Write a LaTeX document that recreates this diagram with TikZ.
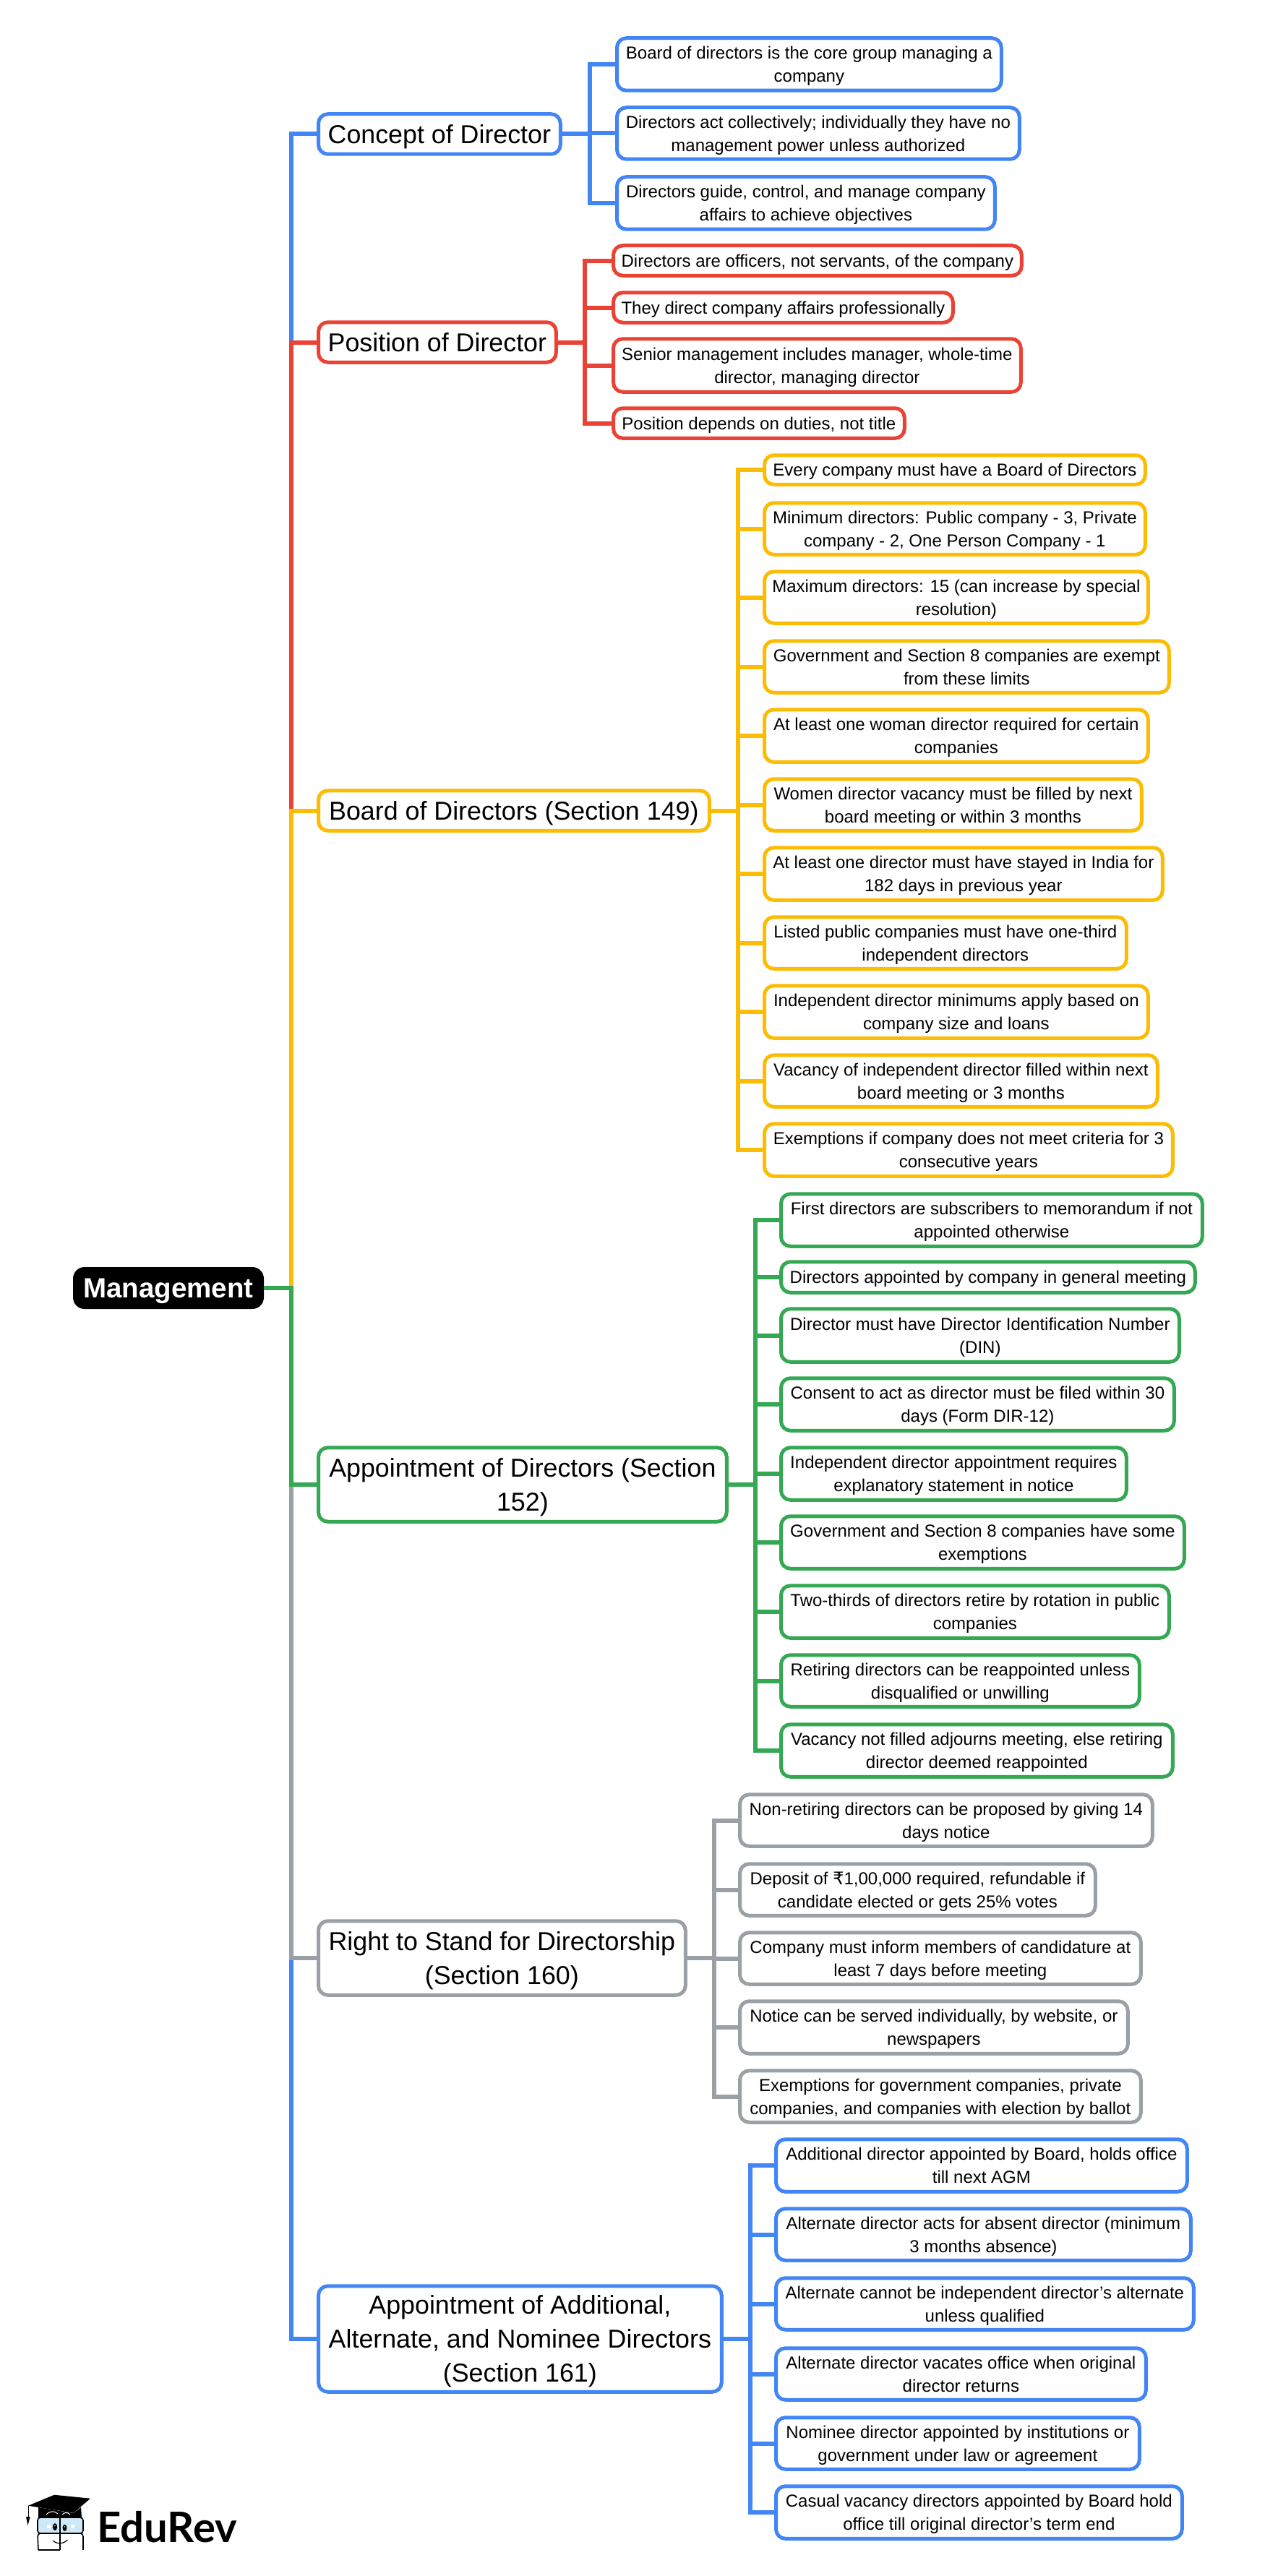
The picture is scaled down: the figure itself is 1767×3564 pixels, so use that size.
\documentclass[tikz,border=0pt]{standalone}
\usepackage{fontspec}
\setmainfont{Liberation Sans}
\newfontfamily\logofont{Lato}
\newfontfamily\rupeefont{DejaVu Sans}
\definecolor{cblue}{HTML}{4285F4}
\definecolor{cred}{HTML}{EA4335}
\definecolor{cyellow}{HTML}{FBBC04}
\definecolor{cgreen}{HTML}{34A853}
\definecolor{cgray}{HTML}{9AA0A6}
\definecolor{lens}{HTML}{CFE8F8}
\tikzset{
  basebox/.style={rounded corners=13pt,inner sep=0pt,align=center,line width=5pt,fill=white,text=black},
  leaf/.style={basebox,draw=#1,font=\fontsize{24}{32}\selectfont},
  topic/.style={basebox,draw=#1,font=\fontsize{35.8}{47}\selectfont},
  rootbox/.style={rounded corners=16pt,inner sep=0pt,align=center,fill=black,text=white,font=\fontsize{38.5}{46}\selectfont\bfseries},
  conn/.style={draw=#1,line width=6pt},
}
\newcommand\nd[7]{%
  \pgfmathsetmacro\ndcx{(#3+#4-1.25)/2}%
  \pgfmathsetmacro\ndcy{(#5+#6)/2}%
  \pgfmathsetmacro\ndmw{#4-#3-2.25}%
  \pgfmathsetmacro\ndmh{#6-#5-3.5}%
  \node[#1,minimum width=\ndmw pt,minimum height=\ndmh pt] (#2) at (\ndcx,\ndcy) {\rule[-0.23em]{0pt}{1.18em}#7\rule[-0.23em]{0pt}{0pt}};%
}
\begin{document}
\begin{tikzpicture}[x=1pt,y=-1pt]
\useasboundingbox (0,0) rectangle (1767,3564);
% root
\node[rootbox,minimum width=264pt,minimum height=58pt] (root) at (233,1782) {\rule[-0.23em]{0pt}{1.18em}Management};
% topics
\nd{topic=cblue}{t1}{440}{777}{156}{215}{Concept of Director}
\nd{topic=cred}{t2}{440}{771}{444}{503}{Position of Director}
\nd{topic=cyellow}{t3}{440}{983}{1092}{1151}{Board of Directors (Section 149)}
\nd{topic=cgreen}{t4}{440}{1007}{2001}{2107}{Appointment of Directors (Section\\152)}
\nd{topic=cgray}{t5}{440}{950}{2656}{2762}{Right to Stand for Directorship\\(Section 160)}
\nd{topic=cblue}{t6}{440}{1000}{3161}{3311}{Appointment of Additional,\\Alternate, and Nominee Directors\\(Section 161)}
% trunk
\draw[conn=cblue] (root.east) -- ++(38,0) |- (t1.west);
\draw[conn=cred] (root.east) -- ++(38,0) |- (t2.west);
\draw[conn=cyellow] (root.east) -- ++(38,0) |- (t3.west);
\draw[conn=cblue] (root.east) -- ++(38,0) |- (t6.west);
\draw[conn=cgray] (root.east) -- ++(38,0) |- (t5.west);
\draw[conn=cgreen] (root.east) -- ++(38,0) |- (t4.west);
% concept
\nd{leaf=cblue}{a1}{853}{1387}{51}{127}{Board of directors is the core group managing a\\company}
\nd{leaf=cblue}{a2}{853}{1412}{147}{222}{Directors act collectively; individually they have no\\management power unless authorized}
\nd{leaf=cblue}{a3}{853}{1378}{243}{319}{Directors guide, control, and manage company\\affairs to achieve objectives}
\foreach \n in {a1,a2,a3} \draw[conn=cblue] (t1.east) -- ++(38,0) |- (\n.west);
% position
\nd{leaf=cred}{b1}{848}{1415}{338}{383}{Directors are officers, not servants, of the company}
\nd{leaf=cred}{b2}{848}{1320}{403}{448}{They direct company affairs professionally}
\nd{leaf=cred}{b3}{848}{1414}{467}{544}{Senior management includes manager, whole-time\\director, managing director}
\nd{leaf=cred}{b4}{848}{1253}{563}{608}{Position depends on duties, not title}
\foreach \n in {b1,b2,b3,b4} \draw[conn=cred] (t2.east) -- ++(37,0) |- (\n.west);
% board
\nd{leaf=cyellow}{c1}{1057}{1586}{628}{672}{Every company must have a Board of Directors}
\nd{leaf=cyellow}{c2}{1057}{1586}{694}{769}{Minimum directors: Public company - 3, Private\\company - 2, One Person Company - 1}
\nd{leaf=cyellow}{c3}{1057}{1590}{789}{864}{Maximum directors: 15 (can increase by special\\resolution)}
\nd{leaf=cyellow}{c4}{1057}{1619}{885}{960}{Government and Section 8 companies are exempt\\from these limits}
\nd{leaf=cyellow}{c5}{1057}{1590}{980}{1056}{At least one woman director required for certain\\companies}
\nd{leaf=cyellow}{c6}{1057}{1581}{1076}{1151}{Women director vacancy must be filled by next\\board meeting or within 3 months}
\nd{leaf=cyellow}{c7}{1057}{1610}{1171}{1247}{At least one director must have stayed in India for\\182 days in previous year}
\nd{leaf=cyellow}{c8}{1057}{1560}{1267}{1342}{Listed public companies must have one-third\\independent directors}
\nd{leaf=cyellow}{c9}{1057}{1590}{1362}{1438}{Independent director minimums apply based on\\company size and loans}
\nd{leaf=cyellow}{c10}{1057}{1603}{1458}{1533}{Vacancy of independent director filled within next\\board meeting or 3 months}
\nd{leaf=cyellow}{c11}{1057}{1624}{1553}{1629}{Exemptions if company does not meet criteria for 3\\consecutive years}
\foreach \n in {c1,c2,c3,c4,c5,c6,c7,c8,c9,c10,c11} \draw[conn=cyellow] (t3.east) -- ++(37,0) |- (\n.west);
% appointment
\nd{leaf=cgreen}{d1}{1080}{1665}{1650}{1726}{First directors are subscribers to memorandum if not\\appointed otherwise}
\nd{leaf=cgreen}{d2}{1080}{1655}{1744}{1790}{Directors appointed by company in general meeting}
\nd{leaf=cgreen}{d3}{1080}{1633}{1809}{1886}{Director must have Director Identification Number\\(DIN)}
\nd{leaf=cgreen}{d4}{1080}{1626}{1905}{1981}{Consent to act as director must be filed within 30\\days (Form DIR-12)}
\nd{leaf=cgreen}{d5}{1080}{1560}{2001}{2077}{Independent director appointment requires\\explanatory statement in notice}
\nd{leaf=cgreen}{d6}{1080}{1640}{2096}{2172}{Government and Section 8 companies have some\\exemptions}
\nd{leaf=cgreen}{d7}{1080}{1619}{2192}{2268}{Two-thirds of directors retire by rotation in public\\companies}
\nd{leaf=cgreen}{d8}{1080}{1578}{2288}{2363}{Retiring directors can be reappointed unless\\disqualified or unwilling}
\nd{leaf=cgreen}{d9}{1080}{1624}{2384}{2460}{Vacancy not filled adjourns meeting, else retiring\\director deemed reappointed}
\foreach \n in {d1,d2,d3,d4,d5,d6,d7,d8,d9} \draw[conn=cgreen] (t4.east) -- ++(37,0) |- (\n.west);
% right to stand
\nd{leaf=cgray}{e1}{1023}{1596}{2481}{2556}{Non-retiring directors can be proposed by giving 14\\days notice}
\nd{leaf=cgray}{e2}{1023}{1517}{2577}{2652}{Deposit of {\rupeefont ₹}1,00,000 required, refundable if\\candidate elected or gets 25\% votes}
\nd{leaf=cgray}{e3}{1023}{1580}{2672}{2747}{Company must inform members of candidature at\\least 7 days before meeting}
\nd{leaf=cgray}{e4}{1023}{1562}{2767}{2843}{Notice can be served individually, by website, or\\newspapers}
\nd{leaf=cgray}{e5}{1023}{1580}{2863}{2938}{Exemptions for government companies, private\\companies, and companies with election by ballot}
\foreach \n in {e1,e2,e3,e4,e5} \draw[conn=cgray] (t5.east) -- ++(37,0) |- (\n.west);
% additional
\nd{leaf=cblue}{f1}{1073}{1644}{2958}{3034}{Additional director appointed by Board, holds office\\till next AGM}
\nd{leaf=cblue}{f2}{1073}{1649}{3054}{3129}{Alternate director acts for absent director (minimum\\3 months absence)}
\nd{leaf=cblue}{f3}{1073}{1653}{3150}{3225}{Alternate cannot be independent director’s alternate\\unless qualified}
\nd{leaf=cblue}{f4}{1073}{1587}{3247}{3322}{Alternate director vacates office when original\\director returns}
\nd{leaf=cblue}{f5}{1073}{1578}{3343}{3418}{Nominee director appointed by institutions or\\government under law or agreement}
\nd{leaf=cblue}{f6}{1073}{1637}{3438}{3514}{Casual vacancy directors appointed by Board hold\\office till original director’s term end}
\foreach \n in {f1,f2,f3,f4,f5,f6} \draw[conn=cblue] (t6.east) -- ++(37,0) |- (\n.west);
% logo
\fill[black] (39,3466.7) -- (75,3451.7) -- (125,3456.7) -- (101.7,3476.7) -- cycle;
\fill[black] (53,3469) -- (53,3483) -- (113,3483) -- (112,3469) -- (101.7,3477) -- cycle;
\draw[white,line width=1pt] (64,3479) .. controls (70,3473) and (76,3474) .. (80,3478);
\draw[white,line width=1pt] (86,3479) .. controls (90,3475) and (94,3476) .. (97,3479);
\draw[black,line width=1pt] (39,3466.7) -- (39,3482);
\fill[black] (36,3482) -- (41.7,3482) -- (38.5,3494) -- cycle;
\draw[black,line width=1.6pt,fill=lens,rounded corners=4pt] (52,3483) rectangle (115,3505);
\draw[black,line width=1.6pt,rounded corners=4pt] (53,3528) -- (52,3505) -- (115,3505) -- (115,3528);
\draw[black,line width=1.4pt] (53,3528) -- (83,3528);
\draw[black,line width=1.8pt] (83,3483) -- (83,3528);
\fill[black] (76,3496) ellipse (3.2 and 5);
\fill[black] (89.5,3497.3) ellipse (3 and 4.5);
\fill[white] (76,3494.5) circle (0.9);
\fill[white] (89.5,3495.8) circle (0.8);
\fill[white] (64.5,3492.5) rectangle (69.5,3497.5);
\fill[white] (97.5,3492.5) rectangle (102.5,3497.5);
\draw[black,line width=1.2pt] (73.3,3515) .. controls (78,3520) and (88,3520) .. (93.3,3514);
\node[inner sep=0pt,anchor=base west,font=\logofont\fontsize{58}{60}\selectfont\bfseries] (logo) at (134,3517) {EduRev};
\end{tikzpicture}
\end{document}
